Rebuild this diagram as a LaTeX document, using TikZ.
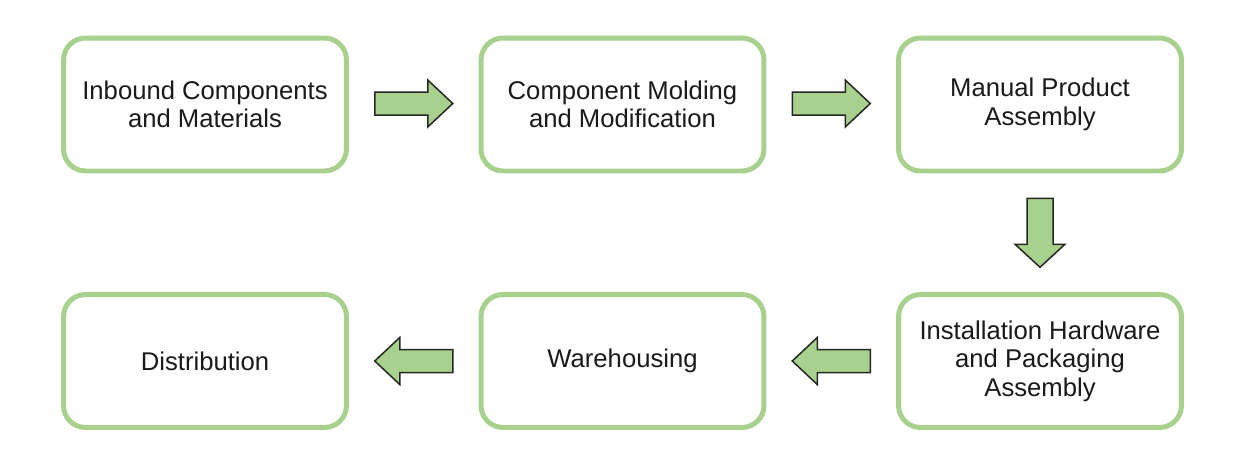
\documentclass[tikz,border=0pt]{standalone}
\usepackage{fontspec}
\setmainfont{Liberation Sans}
\usetikzlibrary{calc}
\definecolor{boxgreen}{HTML}{A9D18E}
\definecolor{arrowgreen}{HTML}{A9D18E}
\definecolor{txt}{HTML}{1A1A1A}
\tikzset{
  stagebox/.style={draw=boxgreen, line width=2.83pt, rounded corners=0.44cm,
    fill=white, minimum width=5.66cm, minimum height=2.66cm, align=center,
    text=txt, font=\fontsize{14.6pt}{16.3pt}\selectfont, inner sep=0pt},
  blockarrow/.style={draw=black!85, fill=arrowgreen, line width=0.85pt, line join=miter},
  harrow/.pic={\draw[blockarrow] (-39,-11.5) -- (14,-11.5) -- (14,-23.5) -- (39,0)
     -- (14,23.5) -- (14,11.5) -- (-39,11.5) -- cycle;},
  varrow/.pic={\draw[blockarrow] (-13,-34.5) -- (-13,11.5) -- (-25,11.5) -- (0,34.5)
     -- (25,11.5) -- (13,11.5) -- (13,-34.5) -- cycle;}
}
\begin{document}
\begin{tikzpicture}[x=0.02cm, y=-0.02cm]
\fill[white] (0,0) rectangle (1248,454);
\useasboundingbox (0,0) rectangle (1248,454);
\node[stagebox] (b1) at (205,104.5) {Inbound Components\\and Materials};
\node[stagebox] (b2) at (622.5,104.5) {Component Molding\\and Modification};
\node[stagebox] (b3) at (1040,104.5) {Manual Product\\Assembly};
\node[stagebox] (b6) at (1040,361) {Installation Hardware\\and Packaging\\Assembly};
\node[stagebox] (b5) at (622.5,361) {Warehousing};
\node[stagebox] (b4) at (205,361) {Distribution};
\coordinate (m12) at ($(b1.east)!0.5!(b2.west)$);
\coordinate (m23) at ($(b2.east)!0.5!(b3.west)$);
\coordinate (m36) at ($(b3.south)!0.5!(b6.north)$);
\coordinate (m65) at ($(b6.west)!0.5!(b5.east)$);
\coordinate (m54) at ($(b5.west)!0.5!(b4.east)$);
\pic at ([yshift=0.02cm]m12) {harrow};
\pic at ([yshift=0.02cm]m23) {harrow};
\pic at (m36) {varrow};
\pic[xscale=-1] at (m65) {harrow};
\pic[xscale=-1] at (m54) {harrow};
\end{tikzpicture}
\end{document}
